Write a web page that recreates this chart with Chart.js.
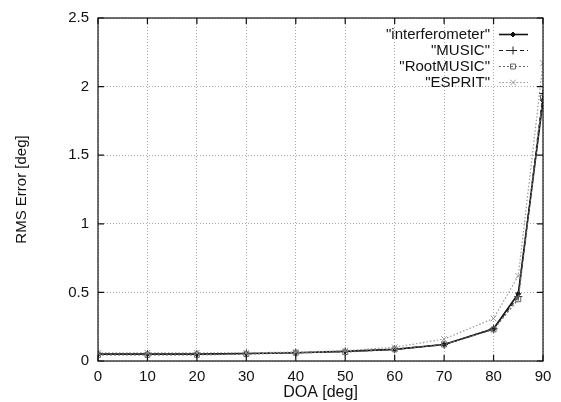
<!DOCTYPE html>
<html>
<head>
<meta charset="utf-8">
<script src="https://cdn.jsdelivr.net/npm/chart.js@4"></script>
<style>
  html, body { margin: 0; padding: 0; background: #fff; }
  #wrap { width: 561px; height: 402px; }
</style>
</head>
<body>
<div id="wrap"><canvas id="rms"></canvas></div>
<script>
// DOA sweep in degrees, RMS error per estimator
const doa = [0, 10, 20, 30, 40, 50, 60, 70, 80, 85, 90];
const interferometer = [0.05, 0.05, 0.05, 0.055, 0.06, 0.07, 0.085, 0.12, 0.235, 0.49, 1.9];
const music = [0.05, 0.05, 0.05, 0.055, 0.06, 0.07, 0.085, 0.12, 0.235, 0.47, 1.95];
const rootMusic = [0.045, 0.045, 0.045, 0.05, 0.06, 0.065, 0.085, 0.12, 0.23, 0.45, 1.92];
const esprit = [0.06, 0.06, 0.06, 0.06, 0.065, 0.075, 0.1, 0.16, 0.31, 0.62, 2.17];
const seriesNames = ['"interferometer"', '"MUSIC"', '"RootMUSIC"', '"ESPRIT"'];
const xTicks = [0, 10, 20, 30, 40, 50, 60, 70, 80, 90];

const fontFamily = '"Liberation Sans", Arial, sans-serif';

function toPoints(ys) {
  return doa.map((x, i) => ({ x: x, y: ys[i] }));
}

const styles = [
  { color: '#111', dash: [], point: 'rectRot', radius: 2.5, fill: '#111', width: 1.6 },
  { color: '#222', dash: [4, 3], point: 'cross', radius: 4, fill: '#222', width: 1.2 },
  { color: '#666', dash: [2, 2], point: 'rect', radius: 3.5, fill: 'rgba(0,0,0,0)', width: 1.2 },
  { color: '#999', dash: [1.5, 2], point: 'crossRot', radius: 4, fill: '#999', width: 1.2 }
];

const seriesData = [interferometer, music, rootMusic, esprit];

// gnuplot-ish frame with inward ticks, plus key in the top right
const framePlugin = {
  id: 'frame',
  afterDraw(chart) {
    const ctx = chart.ctx;
    const a = chart.chartArea;
    const xs = chart.scales.x;
    const ys = chart.scales.y;
    ctx.save();
    ctx.strokeStyle = '#111';
    ctx.lineWidth = 1.2;
    ctx.setLineDash([]);
    ctx.strokeRect(a.left, a.top, a.right - a.left, a.bottom - a.top);
    ctx.beginPath();
    xs.ticks.forEach(t => {
      const px = xs.getPixelForValue(t.value);
      ctx.moveTo(px, a.bottom); ctx.lineTo(px, a.bottom - 6);
      ctx.moveTo(px, a.top); ctx.lineTo(px, a.top + 6);
    });
    ys.ticks.forEach(t => {
      const py = ys.getPixelForValue(t.value);
      ctx.moveTo(a.left, py); ctx.lineTo(a.left + 6, py);
      ctx.moveTo(a.right, py); ctx.lineTo(a.right - 6, py);
    });
    ctx.stroke();

    // key
    ctx.font = '15px ' + fontFamily;
    ctx.textAlign = 'right';
    ctx.textBaseline = 'middle';
    seriesNames.forEach((name, i) => {
      const y = 34.5 + i * 16;
      const s = styles[i];
      ctx.fillStyle = '#111';
      ctx.fillText(name, 490, y);
      ctx.strokeStyle = s.color;
      ctx.lineWidth = s.width;
      ctx.setLineDash(s.dash);
      ctx.beginPath();
      ctx.moveTo(499, y); ctx.lineTo(528, y);
      ctx.stroke();
      ctx.setLineDash([]);
      ctx.lineWidth = 1;
      ctx.fillStyle = s.fill;
      Chart.helpers.drawPoint(ctx, {
        pointStyle: s.point, radius: s.radius, borderWidth: 1, rotation: 0
      }, 513, y);
    });
    ctx.restore();
  }
};

const gridOpts = { color: '#aaa', drawTicks: false };
const borderOpts = { display: false, dash: [1, 2] };

new Chart(document.getElementById('rms'), {
  type: 'line',
  data: {
    datasets: seriesNames.map((name, i) => ({
      label: name,
      data: toPoints(seriesData[i]),
      borderColor: styles[i].color,
      borderDash: styles[i].dash,
      borderWidth: styles[i].width,
      pointStyle: styles[i].point,
      pointRadius: styles[i].radius,
      pointBorderColor: styles[i].color,
      pointBackgroundColor: styles[i].fill,
      pointBorderWidth: 1,
      fill: false,
      tension: 0
    })).reverse()
  },
  options: {
    responsive: true,
    maintainAspectRatio: false,
    animation: false,
    layout: { padding: { top: 14, right: 18, left: 0, bottom: 0 } },
    plugins: {
      legend: { display: false },
      tooltip: { enabled: false }
    },
    scales: {
      x: {
        type: 'linear',
        min: 0,
        max: 90,
        afterFit(scale) { scale.height = 41; },
        afterBuildTicks(scale) {
          scale.ticks = xTicks.map(v => ({ value: v }));
        },
        grid: gridOpts,
        border: borderOpts,
        ticks: { color: '#111', padding: 7, font: { family: fontFamily, size: 15 } },
        title: {
          display: true, text: 'DOA [deg]', color: '#111',
          font: { family: fontFamily, size: 16 }, padding: { top: 0, bottom: 0 }
        }
      },
      y: {
        min: 0,
        max: 2.5,
        afterFit(scale) { scale.width = 98; },
        grid: gridOpts,
        border: borderOpts,
        ticks: {
          stepSize: 0.5, color: '#111', padding: 9,
          font: { family: fontFamily, size: 15 },
          callback: v => String(v)
        },
        title: {
          display: true, text: 'RMS Error [deg]', color: '#111',
          font: { family: fontFamily, size: 15 }, padding: { top: 13, bottom: 0 }
        }
      }
    }
  },
  plugins: [framePlugin]
});
</script>
</body>
</html>
